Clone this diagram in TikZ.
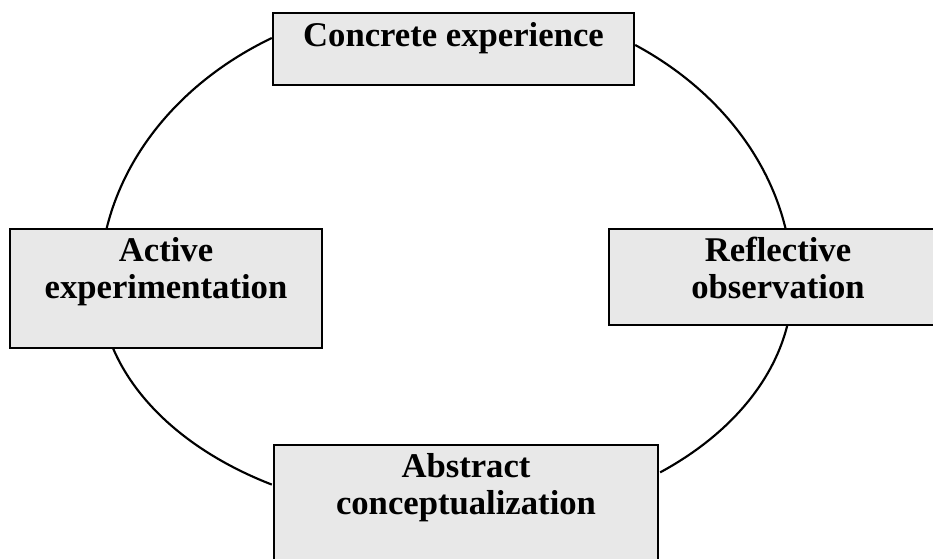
\documentclass[tikz,border=0pt]{standalone}
\usepackage{fontspec}
\setmainfont{Liberation Serif}
\usetikzlibrary{calc}
\definecolor{boxgray}{RGB}{232,232,232}
\pgfdeclarelayer{background}
\pgfsetlayers{background,main}
\begin{document}
\begin{tikzpicture}[x=0.75pt,y=-0.75pt,
  box/.style={draw=black, line width=1.8pt, fill=boxgray, inner xsep=0pt, inner ysep=0pt,
    align=center, font=\bfseries\fontsize{26pt}{27.75pt}\selectfont},
  cycleline/.style={draw=black, line width=1.6pt}]
\clip (0,0) rectangle (933,559);
\node[box, minimum width=270.75pt, text height=25.5pt, text depth=28.5pt] (ce) at (453.5,49) {Concrete experience};
\node[box, minimum width=234pt, text height=52.5pt, text depth=36.75pt] (ae) at (166,288.5) {Active\\experimentation};
\node[box, minimum width=253.5pt, text height=52.5pt, text depth=19.5pt] (ro) at (778,277) {Reflective\\observation};
\node[box, minimum width=288pt, text height=52.5pt, text depth=41.25pt] (ac) at (466,507.5) {Abstract\\conceptualization};
\begin{pgfonlayer}{background}
\draw[cycleline] ($(ce.west)+(0,-11)$)
  arc[start angle=-120.1, end angle=-180, x radius=345, y radius=285.5]
  arc[start angle=180, end angle=120.1, x radius=345, y radius=230.7];
\draw[cycleline] ($(ce.east)+(0,-4)$)
  arc[start angle=-57, end angle=0, x radius=345, y radius=286]
  arc[start angle=0, end angle=51.9, x radius=345, y radius=238.3];
\end{pgfonlayer}
\end{tikzpicture}
\end{document}
